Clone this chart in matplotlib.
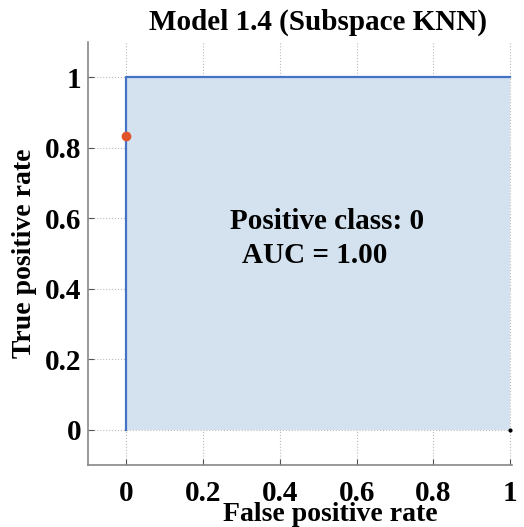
import matplotlib
matplotlib.use("Agg")
import matplotlib.pyplot as plt

fpr = [0, 0, 0, 1]
tpr = [0, 0.5, 1, 1]
op_fpr = [0]
op_tpr = [0.8333]
ticks = [0, 0.2, 0.4, 0.6, 0.8, 1]
tick_labels = ["0", "0.2", "0.4", "0.6", "0.8", "1"]

plt.rcParams["font.family"] = ["Liberation Serif", "DejaVu Serif"]
plt.rcParams["font.weight"] = "bold"

fig = plt.figure(figsize=(5.24, 5.27), dpi=100)
ax = fig.add_axes([0.168, 0.118, 0.809, 0.802])

ax.fill_between(fpr, tpr, 0, color="#d3e2ee", linewidth=0)
ax.plot(fpr, tpr, color="#4472c4", linewidth=1.6)
ax.plot(op_fpr, op_tpr, "o", color="#e0542a", markersize=6)
ax.plot([1], [0], "o", color="black", markersize=2)

ax.set_xlim(-0.1, 1.005)
ax.set_ylim(-0.1, 1.1)
ax.set_xticks(ticks)
ax.set_xticklabels(tick_labels)
ax.set_yticks(ticks)
ax.set_yticklabels(tick_labels)
ax.tick_params(direction="in", length=4, labelsize=21, width=0.8, color="#555555")
ax.tick_params(axis="x", pad=11)
ax.tick_params(axis="y", pad=5)
for lab in ax.get_xticklabels() + ax.get_yticklabels():
    lab.set_fontweight("bold")
ax.grid(True, linestyle=":", color="#bbbbbb", linewidth=0.8)
ax.set_axisbelow(True)
for s in ["top", "right"]:
    ax.spines[s].set_visible(False)
for s in ["left", "bottom"]:
    ax.spines[s].set_color("#888888")
    ax.spines[s].set_linewidth(1.2)

ax.set_xlabel("False positive rate", fontsize=20, fontweight="bold")
ax.xaxis.set_label_coords(0.571, -0.088)
ax.set_ylabel("True positive rate", fontsize=20, fontweight="bold")
ax.yaxis.set_label_coords(-0.12, 0.5)
ax.text(0.5, 1.015, "Model 1.4 (Subspace KNN)", fontsize=21, fontweight="bold",
        ha="center", va="bottom", transform=ax.get_xaxis_transform())

ax.text(0.523, 0.59, "Positive class: 0", fontsize=21, fontweight="bold",
        ha="center", va="center")
ax.text(0.49, 0.494, "AUC = 1.00", fontsize=21, fontweight="bold",
        ha="center", va="center")

fig.savefig("out.png", dpi=100)
